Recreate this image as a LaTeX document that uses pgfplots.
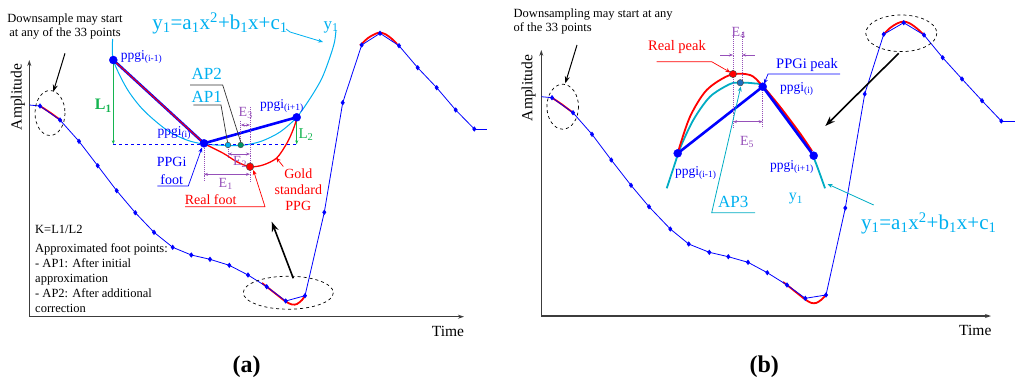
\documentclass[border=0pt]{standalone}
\usepackage{fontspec}
\setmainfont{Liberation Serif}
\usepackage{pgfplots}
\pgfplotsset{compat=1.18}
\usetikzlibrary{arrows.meta}
\definecolor{pblue}{RGB}{0,0,255}
\definecolor{pcyan}{RGB}{0,176,240}
\definecolor{pteal}{RGB}{0,172,195}
\definecolor{pgreen}{RGB}{20,180,80}
\definecolor{papgreen}{RGB}{0,150,100}
\definecolor{ppurple}{RGB}{150,80,185}
\definecolor{paxis}{RGB}{60,60,60}
\newcommand{\fs}[1]{\fontsize{#1}{#1}\selectfont}
\tikzset{
  ar/.style={-{Stealth[length=5pt,width=4pt]}},
  bigar/.style={-{Stealth[length=10pt,width=7pt]}, line width=1.6pt, black},
  dar/.style={{Stealth[length=4pt,width=3pt]}-{Stealth[length=4pt,width=3pt]}},
  axl/.style={paxis, line width=1.3pt, -{Stealth[length=6pt,width=4pt]}},
  pdot/.style={ppurple, densely dotted, line width=0.9pt},
}
\pgfplotsset{ser/.style={pblue, line width=0.8pt, mark=diamond*, mark size=2.2pt, mark options={line width=0.6pt, fill=pblue}}}
\begin{document}
\begin{tikzpicture}
\begin{axis}[scale only axis, width=1024pt, height=386pt,
  xmin=0, xmax=1024, ymin=0, ymax=386, y dir=reverse,
  hide axis, clip=false]

%%%%%%%%%%%%%%%%%%%% PANEL (a) %%%%%%%%%%%%%%%%%%%%
\draw[axl] (29.3,316.7) -- (29.3,60);
\draw[axl] (29.3,316.7) -- (464,316.7);
\node[rotate=90, font=\fs{15.5}] at (18,97) {Amplitude};
\node[font=\fs{15.5}] at (448,331) {Time};

% red gold standard overlays
\addplot[red, line width=1.8pt, smooth] coordinates {(40,106)(50,112.5)(61.7,121)};
\addplot[red, line width=1.8pt, smooth] coordinates {(262,283)(266.7,286.7)(276,294)(285.7,301.5)(292,304.5)(297,304)(302,300)(305,295.7)};
\addplot[red, line width=1.8pt, smooth] coordinates {(360,45.5)(368,38)(375,34)(380,32.5)(386,34.5)(392,39)(397,44)};
% downsampled series
\addplot[pblue, line width=0.8pt] coordinates {(29.3,105)(40,106)};
\addplot[ser] coordinates {
(40,106)(60,120)(79,141.3)(97.7,165.7)(116.7,190.7)(135.3,212.7)(154,232.3)(172.7,247.3)(191.3,255)(210,259.3)(229.3,265.3)(248,275)(266.7,286.7)(285.7,301)(305,295.7)(324.3,212.3)(342.7,102.7)(361.7,45)(380,33.3)(399,45.7)(417.7,67.7)(436.7,87.7)(455.7,110)(474.3,129)};
\addplot[pblue, line width=0.8pt] coordinates {(474.3,129)(487.3,129)};

\draw[black, dashed, line width=0.7pt] (50,113) ellipse [x radius=15, y radius=22.5];
\draw[black, dashed, line width=0.7pt] (288.3,292.7) ellipse [x radius=45, y radius=16.5];
\draw[black, line width=1pt, -{Stealth[length=7pt,width=5pt]}] (65,53.3) -- (53.3,91.7);
\draw[bigar] (293.3,278.3) -- (271.7,221.7);

\node[font=\fs{12.5}, align=center, inner sep=0pt] at (65,26.7) {Downsample may start\\[1.5pt]at any of the 33 points};
\node[font=\fs{12.5}, anchor=west, inner sep=0pt] at (35,229.3) {K=L1/L2};
\node[font=\fs{12.5}, anchor=north west, align=left, inner sep=0pt] at (35,243) {Approximated foot points:\\[2.6pt]- AP1: After initial\\[2.6pt]approximation\\[2.6pt]- AP2: After additional\\[2.6pt]correction};
\node[font=\bfseries\fs{24}] at (246.7,366.7) {(a)};

% inset (a)
\addplot[pcyan, line width=1pt, smooth, tension=0.5] coordinates {(112.7,39)(113.3,60)(126.7,88.3)(143.3,110)(166.7,130)(186.7,140)(204,144)(228,145.5)(245,145)(262,141)(280,132)(296.7,117.3)(311,97)(322,78)(330,57)(334.5,42)(336,30)};
\draw[pblue, dashed, line width=0.8pt] (113.3,144.3) -- (296.7,144.3);
\draw[pgreen, line width=0.8pt, dar] (113.3,60) -- (113.3,144.3);
\draw[pgreen, line width=0.8pt, dar] (296.7,117.3) -- (296.7,144.3);
\addplot[red, line width=1.3pt, smooth] coordinates {(203.3,143.3)(223.3,153.3)(236.7,161.7)(250,166.7)(263,165)(276.7,158)(287,143)(293,130)(296.7,119)};
\addplot[pblue, line width=2.6pt] coordinates {(113.3,60)(204,143.3)(296.7,117.3)};
\addplot[red, line width=1pt] coordinates {(113.3,60)(204,143.3)};
\addplot[only marks, mark=*, mark size=4pt, pblue] coordinates {(113.3,60)(204,143.3)(296.7,117.3)};

% purple dotted guides
\draw[pdot] (204,146) -- (204,181);
\draw[pdot] (250,107) -- (250,182);
\draw[pdot] (228,147) -- (228,158);
\draw[pdot] (240.7,121) -- (240.7,143);
\draw[ppurple, line width=0.7pt, dar] (204,174.3) -- (250,174.3);
\draw[ppurple, line width=0.7pt, dar] (228,154) -- (250,154);
\draw[ppurple, line width=0.7pt, dar] (240.7,125) -- (250,125);
\node[ppurple, font=\fs{14}] at (225.7,184) {E\textsubscript{1}};
\node[ppurple, font=\fs{14}] at (240,161.7) {E\textsubscript{2}};
\node[ppurple, font=\fs{14}] at (245.7,112.7) {E\textsubscript{3}};

% leaders AP1/AP2
\draw[black!80, line width=0.7pt] (190,85) -- (222.7,85) -- (240.7,142);
\draw[black!80, line width=0.7pt] (193.3,105) -- (221,105) -- (227.5,142);
\addplot[only marks, mark=*, mark size=2.8pt, mark options={fill=pcyan, draw=black!70, line width=0.5pt}] coordinates {(228,145)};
\addplot[only marks, mark=*, mark size=2.8pt, mark options={fill=papgreen, draw=black!70, line width=0.5pt}] coordinates {(240.7,145)};
\addplot[only marks, mark=*, mark size=3.8pt, mark options={fill=red, draw=black!70, line width=0.5pt}] coordinates {(250,166.7)};
\node[pcyan, font=\fs{17}] at (206.7,74) {AP2};
\node[pcyan, font=\fs{17}] at (206.7,97.3) {AP1};

% labels
\node[pblue, font=\fs{13.5}, anchor=west, inner sep=0pt] at (120.7,56.7) {ppgi\textsubscript{(i-1)}};
\node[pblue, font=\fs{13.5}, anchor=west, inner sep=0pt] at (260,106) {ppgi\textsubscript{(i+1)}};
\node[pblue, font=\fs{13.5}, anchor=west, inner sep=0pt] at (157.3,132.7) {ppgi\textsubscript{(i)}};
\node[pgreen, font=\bfseries\fs{16}] at (103.3,106) {L\textsubscript{1}};
\node[pgreen, font=\fs{15}] at (306,134.3) {L\textsubscript{2}};
\node[pblue, font=\fs{14}] at (171.7,162.3) {PPGi};
\node[pblue, font=\fs{14}] at (171.7,180) {foot};
\draw[pblue, line width=0.7pt, ar] (157.3,186) -- (188.3,186) -- (202,147.5);
\node[red, font=\fs{14}] at (210.7,199.3) {Real foot};
\draw[red, line width=0.7pt, ar] (185,206.7) -- (265,206.7) -- (253.3,170);
\node[red, font=\fs{14}, align=center, inner sep=0pt] at (298.3,189.5) {Gold\\[2pt]standard\\[2pt]PPG};
\draw[red, line width=0.7pt, ar] (283.3,166.5) -- (276,157.5);
\node[pcyan, font=\fs{21}] at (220,23.3) {y\textsubscript{1}=a\textsubscript{1}x\textsuperscript{2}+b\textsubscript{1}x+c\textsubscript{1}};
\draw[pcyan, line width=0.8pt, ar] (286,29) -- (290,32) -- (323,42);
\node[pcyan, font=\fs{17}] at (331,27) {y\textsubscript{1}};

%%%%%%%%%%%%%%%%%%%% PANEL (b) %%%%%%%%%%%%%%%%%%%%
\draw[axl] (541.3,316) -- (541.3,50);
\draw[axl] (541.3,316) -- (991,316);
\node[rotate=90, font=\fs{15.5}] at (528.7,88) {Amplitude};
\node[font=\fs{15.5}] at (975.3,330) {Time};

\addplot[red, line width=1.8pt, smooth] coordinates {(552,97.7)(562,104.5)(573.7,113.3)};
\addplot[red, line width=1.8pt, smooth] coordinates {(783,282)(787,285)(797,293)(805.3,299.5)(811,302.8)(816,303)(821,300)(826,295)};
\addplot[red, line width=1.8pt, smooth] coordinates {(883,35)(890,28)(897,23.5)(903.7,21.5)(910,23.5)(917,28.5)(923,34)};
\addplot[pblue, line width=0.8pt] coordinates {(541.3,96.7)(552,97.7)};
\addplot[ser] coordinates {
(552,97.7)(573,112.7)(592,134.3)(611.3,160)(631,185.3)(649,206.7)(670.3,229)(688.7,244)(709.3,252.3)(728.3,256.7)(748,262.3)(767.3,272.7)(787,285)(805.3,298.3)(826,295)(845.3,208)(864.7,94)(883.7,34.3)(903.7,22.7)(924,35)(942.7,57.7)(962,79)(982,100.7)(1001.3,121)};
\addplot[pblue, line width=0.8pt] coordinates {(1001.3,121)(1015.3,121)};

\draw[black, dashed, line width=0.7pt] (562.7,106.7) ellipse [x radius=15.8, y radius=22.5];
\draw[black, dashed, line width=0.7pt] (901.3,33.3) ellipse [x radius=35.5, y radius=18.3];
\draw[black, line width=1pt, -{Stealth[length=7pt,width=5pt]}] (577,45) -- (565.3,83.3);
\draw[bigar] (898.7,53.3) -- (825.3,126);

\node[font=\fs{12.5}, anchor=north west, align=left, inner sep=0pt] at (513.5,9) {Downsampling may start at any\\[1.5pt]of the 33 points};
\node[font=\bfseries\fs{24}] at (764.3,366.7) {(b)};

% inset (b)
\addplot[pteal, line width=1.8pt, smooth] coordinates {(666.7,188.3)(675,163.3)(680,148.3)(693.3,120)(710,96.7)(730,84)(740,82.7)(753.3,83.3)(763.3,86.7)(783.3,113.3)(803.3,140)(813.3,156.7)(825,188.3)};
\addplot[red, line width=1.8pt, smooth] coordinates {(678.3,151)(690,116.7)(706.7,90)(730,75)(750,75)(761.7,85)(780,106.7)(800,133.3)(812,151)};
\addplot[pblue, line width=2.6pt] coordinates {(677.7,153.3)(762.7,86.7)(813.7,155.7)};
\addplot[only marks, mark=*, mark size=4pt, pblue] coordinates {(677.7,153.3)(762.7,86.7)(813.7,155.7)};
\draw[pdot] (733,31.7) -- (733,128);
\draw[pdot] (742,31.7) -- (742,80);
\draw[pdot] (762.7,90) -- (762.7,128);
\draw[ppurple, line width=0.7pt, -{Stealth[length=4pt,width=3pt]}] (720.3,55) -- (733,55);
\draw[ppurple, line width=0.7pt, -{Stealth[length=4pt,width=3pt]}] (754.7,55) -- (742,55);
\draw[ppurple, line width=0.7pt, dar] (733,121.7) -- (762.7,121.7);
\node[ppurple, font=\fs{14}] at (738.7,33.3) {E\textsubscript{4}};
\node[ppurple, font=\fs{14}] at (747,141.7) {E\textsubscript{5}};
\addplot[only marks, mark=*, mark size=3.6pt, mark options={fill=red, draw=black!70, line width=0.5pt}] coordinates {(733,74)};
\addplot[only marks, mark=*, mark size=3.2pt, mark options={fill={rgb,255:red,30;green,110;blue,190}, draw=black!70, line width=0.5pt}] coordinates {(740.3,82.7)};

\node[red, font=\fs{14.5}] at (677,46.7) {Real peak};
\draw[red, line width=0.7pt, ar] (656.7,61.7) -- (711.7,61.7) -- (730.5,72.5);
\node[pblue, font=\fs{14.5}] at (807,65) {PPGi peak};
\draw[pblue, line width=0.7pt, ar] (840,74) -- (768,74) -- (764,84);
\node[pblue, font=\fs{13.5}, anchor=west, inner sep=0pt] at (780,89) {ppgi\textsubscript{(i)}};
\node[pblue, font=\fs{13.5}, anchor=west, inner sep=0pt] at (675,173.3) {ppgi\textsubscript{(i-1)}};
\node[pblue, font=\fs{13.5}, anchor=west, inner sep=0pt] at (770,166.7) {ppgi\textsubscript{(i+1)}};
\node[pcyan, font=\fs{17}] at (733.3,201.7) {AP3};
\draw[pteal, line width=0.8pt, ar] (755,212.7) -- (711.7,212.7) -- (740.8,86.5);
\node[pcyan, font=\fs{16}] at (796,199) {y\textsubscript{1}};
\node[pcyan, font=\fs{21}] at (928.7,223.3) {y\textsubscript{1}=a\textsubscript{1}x\textsuperscript{2}+b\textsubscript{1}x+c\textsubscript{1}};
\draw[pteal, line width=0.8pt, ar] (873.7,205) -- (827.5,184);
\end{axis}
\pgfresetboundingbox
\path (current axis.south west) rectangle (current axis.north east);
\end{tikzpicture}
\end{document}
